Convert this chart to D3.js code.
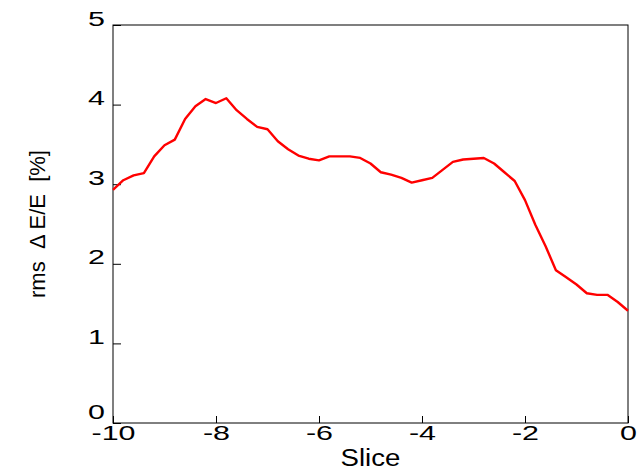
<!DOCTYPE html>
<html>
<head>
<meta charset="utf-8">
<script src="https://cdn.jsdelivr.net/npm/d3@7"></script>
<style>
  body { margin: 0; background: #fff; }
  svg { display: block; font-family: Arial, "Liberation Sans", sans-serif; }
</style>
</head>
<body>
<svg id="chart"></svg>
<script>
// slice positions and rms values
const slices = [-10, -9.8, -9.6, -9.4, -9.2, -9, -8.8, -8.6, -8.4, -8.2,
  -8, -7.8, -7.6, -7.4, -7.2, -7, -6.8, -6.6, -6.4, -6.2,
  -6, -5.8, -5.6, -5.4, -5.2, -5, -4.8, -4.6, -4.4, -4.2,
  -4, -3.8, -3.6, -3.4, -3.2, -3, -2.8, -2.6, -2.4, -2.2,
  -2, -1.8, -1.6, -1.4, -1.2, -1, -0.8, -0.6, -0.4, -0.2, 0];
const rmsValues = [2.93, 3.05, 3.11, 3.14, 3.35, 3.49, 3.56, 3.82, 3.98, 4.07,
  4.02, 4.08, 3.93, 3.82, 3.72, 3.69, 3.54, 3.44, 3.36, 3.32,
  3.30, 3.35, 3.35, 3.35, 3.33, 3.26, 3.15, 3.12, 3.08, 3.02,
  3.05, 3.08, 3.18, 3.28, 3.31, 3.32, 3.33, 3.26, 3.15, 3.04,
  2.80, 2.49, 2.22, 1.92, 1.83, 1.74, 1.63, 1.61, 1.61, 1.52, 1.41];
const xTicks = [-10, -8, -6, -4, -2, 0];
const yTicks = [0, 1, 2, 3, 4, 5];

const W = 637, H = 468;
const margin = {top: 25, right: 9, bottom: 45, left: 113};
const width = W - margin.left - margin.right;
const height = H - margin.top - margin.bottom;
const stretch = 1.45; // tick digits in the original are drawn wide

const svg = d3.select("#chart").attr("width", W).attr("height", H);
const g = svg.append("g").attr("transform", `translate(${margin.left},${margin.top})`);

const x = d3.scaleLinear().domain([-10, 0]).range([0, width]);
const y = d3.scaleLinear().domain([0, 5]).range([height, 0]);

// box
g.append("rect")
  .attr("x", 0).attr("y", 0)
  .attr("width", width).attr("height", height)
  .attr("fill", "none").attr("stroke", "#000").attr("stroke-width", 1);

// bottom axis, ticks pointing in, plain hyphen minus
const xAxis = g.append("g")
  .attr("transform", `translate(0,${height})`)
  .call(d3.axisBottom(x).tickValues(xTicks).tickSizeInner(-7).tickSizeOuter(0)
    .tickFormat(d => String(d)));
xAxis.select(".domain").remove();
xAxis.selectAll(".tick line").attr("stroke", "#000");
xAxis.selectAll("text")
  .attr("font-size", 21).attr("fill", "#000")
  .attr("y", 17).attr("dy", 0)
  .attr("transform", `scale(${stretch},1)`);

// left axis, ticks pointing in
const yAxis = g.append("g")
  .call(d3.axisLeft(y).tickValues(yTicks).tickSizeInner(-8).tickSizeOuter(0).tickFormat(d => String(d)));
yAxis.select(".domain").remove();
yAxis.selectAll(".tick line").attr("stroke", "#000");
yAxis.selectAll("text")
  .attr("font-size", 21).attr("fill", "#000")
  .attr("x", -8 / stretch)
  .attr("dy", d => d === 0 ? "-0.2em" : "0")
  .attr("transform", `scale(${stretch},1)`);

// line
const line = d3.line().x((d, i) => x(slices[i])).y(d => y(d));
g.append("path")
  .datum(rmsValues)
  .attr("fill", "none")
  .attr("stroke", "#ff0000")
  .attr("stroke-width", 2.4)
  .attr("stroke-linejoin", "round")
  .attr("d", line);

// axis titles
svg.append("text")
  .attr("transform", `translate(${margin.left + width / 2},466) scale(1.15,1)`)
  .attr("text-anchor", "middle").attr("font-size", 24)
  .text("Slice");

svg.append("text")
  .attr("transform", `translate(45,${margin.top + height / 2}) rotate(-90)`)
  .attr("text-anchor", "middle").attr("font-size", 22)
  .style("white-space", "pre")
  .text("rms  \u0394 E/E  [%]");
</script>
</body>
</html>
